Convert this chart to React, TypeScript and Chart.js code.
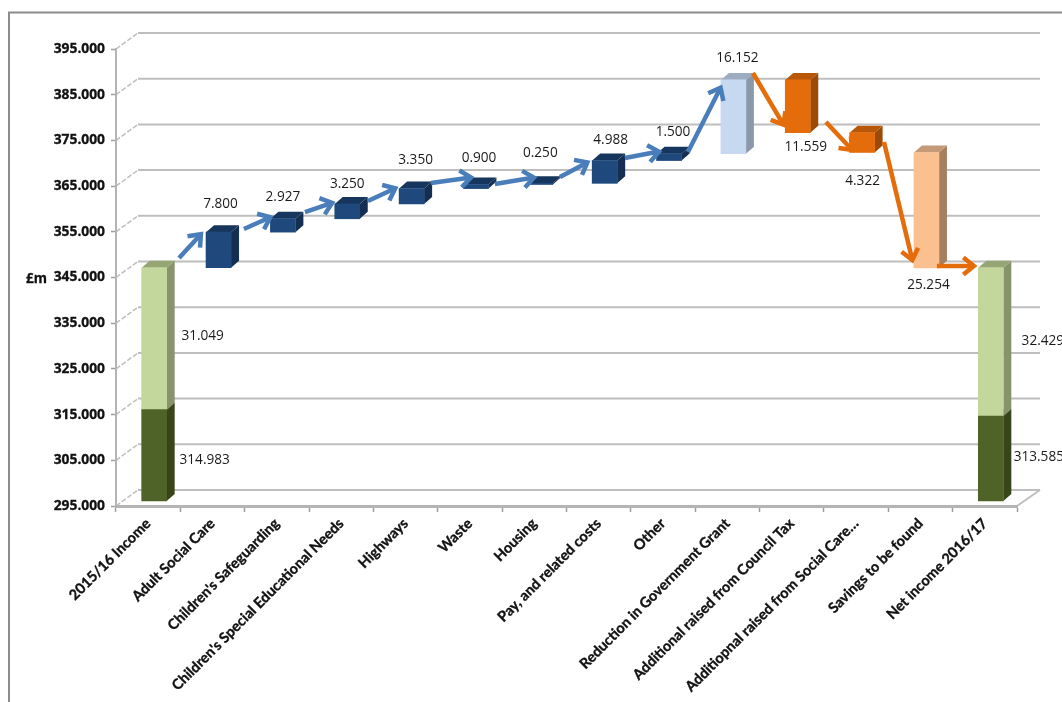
import React, { useEffect, useRef } from "react";
import { Chart, registerables } from "chart.js";

Chart.register(...registerables);

const categories = [
  "2015/16 Income",
  "Adult Social Care",
  "Children's Safeguarding",
  "Children's Special Educational Needs",
  "Highways",
  "Waste",
  "Housing",
  "Pay, and related costs",
  "Other",
  "Reduction in Government Grant",
  "Additional raised from Council Tax",
  "Additiopnal raised from Social Care…",
  "Savings to be found",
  "Net income 2016/17",
];

// Signed steps of the bridge, in £m.
const openingBase = 314.983;
const openingGrowth = 31.049;
const pressures = [7.8, 2.927, 3.25, 3.35, 0.9, 0.25, 4.988, 1.5];
const grantReduction = 16.152;
const savings = [11.559, 4.322, 25.254];
const closingBase = 313.585;
const closingGrowth = 32.429;

const axisMin = 295;
const axisMax = 395;

// Connector arrows as [fromCategory, fromValue, toCategory, toValue].
const risingArrows = [
  [0.479, 349.27, 0.851, 354.96],
  [1.488, 355.61, 1.939, 358.46],
  [2.436, 359.33, 2.902, 361.52],
  [3.415, 361.74, 3.882, 364.8],
  [4.394, 365.68, 5.062, 366.99],
  [5.388, 365.46, 6.04, 366.99],
  [6.399, 366.99, 6.865, 370.49],
  [7.408, 371.15, 7.983, 372.68],
  [8.387, 372.46, 8.915, 387.12],
];
const fallingArrows = [
  [9.397, 389.75, 9.894, 377.88],
  [10.531, 379.03, 10.967, 372.46],
  [11.433, 374.65, 11.884, 348.17],
  [12.256, 347.52, 12.877, 347.52],
];

const palette = {
  baseGreen: ["#4F6228", "#374519", "#3F4E20"],
  lightGreen: ["#C3D69B", "#87936B", "#96A574"],
  navy: ["#1F497D", "#152F52", "#17365D"],
  paleBlue: ["#C6D9F1", "#8A98AA", "#9DACC0"],
  orange: ["#E46C0A", "#9C4A06", "#B85708"],
  paleOrange: ["#FAC090", "#A67F5F", "#C49A78"],
};

// Build the floating segments from the running total.
const lowerBars: (number[] | null)[] = [];
const upperBars: (number[] | null)[] = [];
const upperColours: string[][] = [];
const lowerColours: string[][] = [];
const labelValues: number[] = [];
let running = openingBase + openingGrowth;

categories.forEach((_, i) => {
  lowerBars.push(null);
  lowerColours.push(palette.baseGreen);
  upperColours.push(palette.navy);
  upperBars.push(null);
  if (i === 0) {
    lowerBars[i] = [axisMin, openingBase];
    upperBars[i] = [openingBase, running];
    upperColours[i] = palette.lightGreen;
    labelValues.push(openingGrowth);
  } else if (i <= pressures.length) {
    const step = pressures[i - 1];
    upperBars[i] = [running, running + step];
    running += step;
    labelValues.push(step);
  } else if (i === pressures.length + 1) {
    upperBars[i] = [running, running + grantReduction];
    upperColours[i] = palette.paleBlue;
    running += grantReduction;
    labelValues.push(grantReduction);
  } else if (i < categories.length - 1) {
    const step = savings[i - pressures.length - 2];
    upperBars[i] = [running - step, running];
    upperColours[i] = i === categories.length - 2 ? palette.paleOrange : palette.orange;
    running -= step;
    labelValues.push(step);
  } else {
    lowerBars[i] = [axisMin, closingBase];
    upperBars[i] = [closingBase, closingBase + closingGrowth];
    upperColours[i] = palette.lightGreen;
    labelValues.push(closingGrowth);
  }
});

// Label placement relative to the top centre of the segment's front face.
const labelNudges = [
  [48.5, 68], [2, -28], [0, -22], [0, -20], [4, -28.6], [3, -26.5], [0, -30],
  [6, -20], [4, -22], [4, -22], [8, 67], [0.5, 48], [2, 133], [52, 73],
];
const baseLabelNudges: Record<number, number[]> = { 0: [50.5, 50], 13: [48, 41] };
const baseLabelValues: Record<number, number> = { 0: openingBase, 13: closingBase };

const BAR_SHIFT_X = 6;
const BAR_SHIFT_Y = -5;
const DEPTH_X = 8;
const DEPTH_Y = -7;
const WALL_X = 22;
const WALL_Y = -16;
const GRID_COLOUR = "#BEBEBE";
const AXIS_COLOUR = "#B4B4B4";

function poly(ctx: CanvasRenderingContext2D, pts: number[][], fill: string) {
  ctx.fillStyle = fill;
  ctx.beginPath();
  pts.forEach(([x, y], i) => (i ? ctx.lineTo(x, y) : ctx.moveTo(x, y)));
  ctx.closePath();
  ctx.fill();
}

function drawArrow(
  ctx: CanvasRenderingContext2D,
  x0: number,
  y0: number,
  x1: number,
  y1: number,
  colour: string
) {
  const angle = Math.atan2(y1 - y0, x1 - x0);
  const barb = 16;
  const spread = 0.56;
  ctx.save();
  ctx.strokeStyle = colour;
  ctx.lineWidth = 4.5;
  ctx.lineCap = "butt";
  ctx.lineJoin = "miter";
  ctx.beginPath();
  ctx.moveTo(x0, y0);
  ctx.lineTo(x1 - Math.cos(angle) * 3, y1 - Math.sin(angle) * 3);
  ctx.stroke();
  ctx.beginPath();
  ctx.moveTo(x1 - barb * Math.cos(angle - spread), y1 - barb * Math.sin(angle - spread));
  ctx.lineTo(x1 - Math.cos(angle) * 3, y1 - Math.sin(angle) * 3);
  ctx.lineTo(x1 - barb * Math.cos(angle + spread), y1 - barb * Math.sin(angle + spread));
  ctx.stroke();
  ctx.restore();
}

const perspectivePlugin = {
  id: "perspective",
  beforeDraw(chart: any) {
    const { ctx, scales, chartArea } = chart;
    ctx.save();
    ctx.fillStyle = "#fff";
    ctx.fillRect(0, 0, chart.width, chart.height);

    // outer frame
    ctx.strokeStyle = "#8C8C8C";
    ctx.lineWidth = 2;
    ctx.beginPath();
    ctx.moveTo(9, chart.height);
    ctx.lineTo(9, 12.5);
    ctx.lineTo(chart.width, 12.5);
    ctx.stroke();

    // back wall grid and its dashed returns to the value axis
    for (let v = axisMin; v <= axisMax; v += 10) {
      const y = scales.y.getPixelForValue(v);
      ctx.strokeStyle = GRID_COLOUR;
      ctx.lineWidth = 2;
      ctx.setLineDash([]);
      ctx.beginPath();
      ctx.moveTo(chartArea.left + WALL_X, y + WALL_Y);
      ctx.lineTo(chartArea.right + WALL_X + 1, y + WALL_Y);
      ctx.stroke();
      ctx.lineWidth = 1.5;
      ctx.setLineDash([5, 2]);
      ctx.beginPath();
      ctx.moveTo(chartArea.left, y);
      ctx.lineTo(chartArea.left + WALL_X, y + WALL_Y);
      ctx.stroke();
    }
    ctx.setLineDash([]);
    ctx.strokeStyle = GRID_COLOUR;
    ctx.lineWidth = 2;
    ctx.beginPath();
    ctx.moveTo(chartArea.right, chartArea.bottom);
    ctx.lineTo(chartArea.right + WALL_X + 1, chartArea.bottom + WALL_Y);
    ctx.stroke();

    ctx.fillStyle = "#111";
    ctx.strokeStyle = "#111";
    ctx.lineWidth = 0.3;
    ctx.font = "bold 13.5px 'Open Sans'";
    ctx.textAlign = "left";
    ctx.textBaseline = "middle";
    ctx.fillText("£m", 26, scales.y.getPixelForValue(345) + 2);
    ctx.strokeText("£m", 26, scales.y.getPixelForValue(345) + 2);
    ctx.restore();
  },
  beforeDatasetsDraw(chart: any) {
    const { ctx } = chart;
    ctx.save();
    ctx.translate(BAR_SHIFT_X, BAR_SHIFT_Y);
    chart.data.datasets.forEach((ds: any, d: number) => {
      chart.getDatasetMeta(d).data.forEach((bar: any, i: number) => {
        if (!ds.data[i]) return;
        const faces = ds.faceColours[i];
        const half = bar.width / 2;
        const left = bar.x - half;
        const right = bar.x + half;
        const top = Math.min(bar.y, bar.base);
        const bottom = Math.max(bar.y, bar.base);
        poly(ctx, [[right, top], [right + DEPTH_X, top + DEPTH_Y], [right + DEPTH_X, bottom + DEPTH_Y], [right, bottom]], faces[1]);
        poly(ctx, [[left, top], [left + DEPTH_X, top + DEPTH_Y], [right + DEPTH_X, top + DEPTH_Y], [right, top]], faces[2]);
      });
    });
  },
  afterDatasetsDraw(chart: any) {
    const { ctx, scales } = chart;
    ctx.restore();

    const px = (a: number[]) => [
      scales.x.getPixelForValue(a[0]),
      scales.y.getPixelForValue(a[1]),
      scales.x.getPixelForValue(a[2]),
      scales.y.getPixelForValue(a[3]),
    ];
    risingArrows.forEach((a) => {
      const [x0, y0, x1, y1] = px(a);
      drawArrow(ctx, x0, y0, x1, y1, "#4A7EBB");
    });
    fallingArrows.forEach((a) => {
      const [x0, y0, x1, y1] = px(a);
      drawArrow(ctx, x0, y0, x1, y1, "#E46C0A");
    });

    ctx.save();
    ctx.fillStyle = "#1A1A1A";
    ctx.font = "13.6px 'Open Sans'";
    ctx.textAlign = "center";
    ctx.textBaseline = "middle";
    const centre = (i: number) => scales.x.getPixelForValue(i) + BAR_SHIFT_X;
    const topOf = (v: number) => scales.y.getPixelForValue(v) + BAR_SHIFT_Y;
    categories.forEach((_, i) => {
      const upper = upperBars[i] as number[];
      const [dx, dy] = labelNudges[i];
      ctx.fillText(labelValues[i].toFixed(3), centre(i) + dx, topOf(upper[1]) + dy);
      if (baseLabelNudges[i]) {
        const [bx, by] = baseLabelNudges[i];
        ctx.fillText(baseLabelValues[i].toFixed(3), centre(i) + bx, topOf((lowerBars[i] as number[])[1]) + by);
      }
    });
    ctx.restore();
  },
};

export default function App() {
  const canvasRef = useRef<HTMLCanvasElement | null>(null);

  useEffect(() => {
    const chart = new Chart(canvasRef.current as HTMLCanvasElement, {
      type: "bar",
      data: {
        labels: categories,
        datasets: [
          {
            label: "Base",
            data: lowerBars as any,
            backgroundColor: lowerColours.map((c) => c[0]),
            faceColours: lowerColours,
            barThickness: 25,
            clip: false,
            grouped: false,
          } as any,
          {
            label: "Movement",
            data: upperBars as any,
            backgroundColor: upperColours.map((c) => c[0]),
            faceColours: upperColours,
            barThickness: 25,
            clip: false,
            grouped: false,
          } as any,
        ],
      },
      options: {
        responsive: false,
        animation: false,
        layout: { padding: { left: 0, top: 49, right: 45, bottom: 0 } },
        plugins: { legend: { display: false }, tooltip: { enabled: false } },
        scales: {
          x: {
            afterFit: (s: any) => {
              s.height = 196;
              s.paddingLeft = 0;
              s.paddingRight = 0;
            },
            grid: {
              offset: true,
              drawOnChartArea: false,
              drawTicks: true,
              tickLength: 6,
              tickColor: "#9E9E9E",
              tickWidth: 1.5,
            },
            border: { display: true, color: AXIS_COLOUR, width: 3 },
            ticks: {
              autoSkip: false,
              minRotation: 45,
              maxRotation: 45,
              padding: 3,
              color: "#111",
              textStrokeColor: "#111",
              textStrokeWidth: 0.35,
              font: { family: "Lato", weight: "bold", size: 14.5 },
            },
          },
          y: {
            min: axisMin,
            max: axisMax,
            afterFit: (s: any) => {
              s.width = 116;
              s.paddingTop = 0;
              s.paddingBottom = 0;
            },
            grid: {
              drawOnChartArea: false,
              tickLength: 5,
              tickColor: "#9E9E9E",
              tickWidth: 1.5,
            },
            border: { display: true, color: AXIS_COLOUR, width: 2 },
            ticks: {
              stepSize: 10,
              padding: 6,
              color: "#111",
              textStrokeColor: "#111",
              textStrokeWidth: 0.3,
              font: { family: "'Open Sans'", weight: "bold", size: 13.8 },
              callback: (v: any) => Number(v).toFixed(3),
            },
          },
        },
      },
      plugins: [perspectivePlugin],
    } as any);
    return () => chart.destroy();
  }, []);

  return (
    <div style={{ position: "fixed", left: 0, top: 0, width: 1062, height: 702, background: "#fff" }}>
      <canvas ref={canvasRef} width={1062} height={702} style={{ display: "block" }} />
    </div>
  );
}
